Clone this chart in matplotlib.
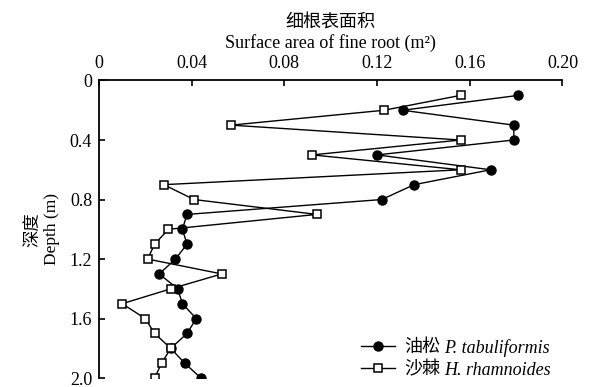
import numpy as np
import matplotlib
matplotlib.use('Agg')
import matplotlib.pyplot as plt

plt.rcParams['font.family'] = ['Liberation Serif', 'Noto Sans CJK SC']
plt.rcParams['font.size'] = 13

# 深度 (m)
depth = [0.1, 0.2, 0.3, 0.4, 0.5, 0.6, 0.7, 0.8, 0.9, 1.0,
         1.1, 1.2, 1.3, 1.4, 1.5, 1.6, 1.7, 1.8, 1.9, 2.0]
# 油松 P. tabuliformis
pine = [0.181, 0.131, 0.179, 0.179, 0.120, 0.169, 0.136, 0.122, 0.038, 0.036,
        0.038, 0.033, 0.026, 0.034, 0.036, 0.042, 0.038, 0.031, 0.037, 0.044]
# 沙棘 H. rhamnoides
buckthorn = [0.156, 0.123, 0.057, 0.156, 0.092, 0.156, 0.028, 0.041, 0.094, 0.030,
             0.024, 0.021, 0.053, 0.031, 0.010, 0.020, 0.024, 0.031, 0.027, 0.024]
xticks = [0, 0.04, 0.08, 0.12, 0.16, 0.20]
xticklabels = ['0', '0.04', '0.08', '0.12', '0.16', '0.20']
yticks = [0, 0.4, 0.8, 1.2, 1.6, 2.0]
yticklabels = ['0', '0.4', '0.8', '1.2', '1.6', '2.0']
names_cn = ['油松', '沙棘']
names_latin = ['P. tabuliformis', 'H. rhamnoides']

W, H = 589, 387
fig = plt.figure(figsize=(W / 100, H / 100), dpi=100)
ax = fig.add_axes([0.168, 0.023, 0.787, 0.769])

ax.plot(pine, depth, '-o', color='black', lw=1.0, ms=6.5,
        mfc='black', mec='black', label=names_cn[0])
ax.plot(buckthorn, depth, '-s', color='black', lw=1.0, ms=5.5,
        mfc='white', mec='black', mew=1.1, label=names_cn[1])

ax.set_xlim(0, 0.20)
ax.set_ylim(2.0, 0)
ax.xaxis.tick_top()
ax.xaxis.set_label_position('top')
ax.set_xticks(xticks)
ax.set_xticklabels(xticklabels)
ax.set_yticks(yticks)
ax.set_yticklabels(yticklabels)
ax.tick_params(direction='in', length=4, width=1.2)
ax.tick_params(axis='x', pad=6)
ax.tick_params(axis='y', pad=5)
for s in ['right', 'bottom']:
    ax.spines[s].set_visible(False)
for s in ['left', 'top']:
    ax.spines[s].set_linewidth(1.3)

ax.set_xlabel('细根表面积\nSurface area of fine root (m²)', labelpad=5, linespacing=1.2)
ax.set_ylabel('深度\nDepth (m)', labelpad=7, linespacing=1.2, fontsize=12.5)

leg = ax.legend(loc='center left', frameon=False, handlelength=1.9,
                handletextpad=0.5, labelspacing=0.3, borderpad=0,
                borderaxespad=0, bbox_to_anchor=(361 / W, 1 - 359 / H),
                bbox_transform=fig.transFigure)

# italic Latin names right after the Chinese legend labels
fig.canvas.draw()
for txt, it in zip(leg.get_texts(), names_latin):
    bb = txt.get_window_extent()
    fig.text((bb.x1 + 4) / W, (bb.y0 + bb.y1) / 2 / H, it, va='center',
             ha='left', fontstyle='italic')

fig.savefig('out.png', dpi=100)
